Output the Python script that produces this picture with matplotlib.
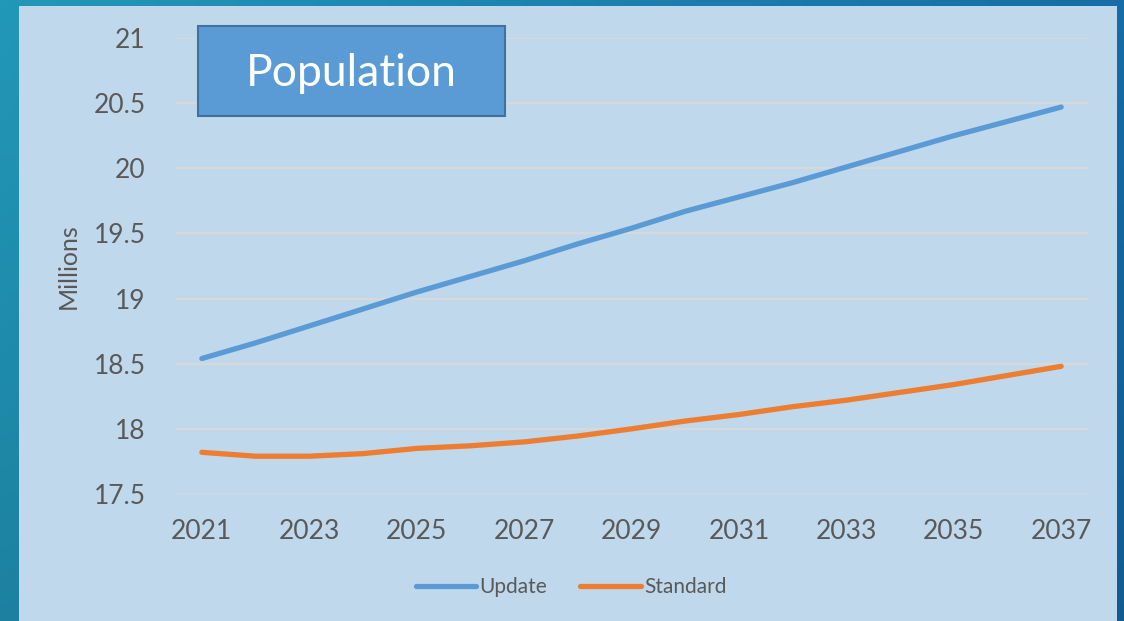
import matplotlib.pyplot as plt
import numpy as np
from matplotlib.patches import Rectangle

plt.rcParams['font.family'] = ['Lato', 'DejaVu Sans']

years = np.arange(2021, 2038)
update = [18.54, 18.66, 18.79, 18.92, 19.05, 19.17, 19.29, 19.42, 19.54,
          19.67, 19.78, 19.89, 20.01, 20.13, 20.25, 20.36, 20.47]
standard = [17.82, 17.79, 17.79, 17.81, 17.85, 17.87, 17.90, 17.945, 18.0,
            18.06, 18.11, 18.17, 18.22, 18.28, 18.34, 18.41, 18.48]
yticks = [17.5, 18, 18.5, 19, 19.5, 20, 20.5, 21]
ytick_labels = ['17.5', '18', '18.5', '19', '19.5', '20', '20.5', '21']

text_col = '#595959'

fig = plt.figure(figsize=(11.24, 6.21), dpi=100)

# slide background gradient (teal left -> blue right)
bg = fig.add_axes([0, 0, 1, 1], zorder=-10)
gx = np.linspace(0, 1, 200)
gy = np.linspace(0, 1, 100)
GX, GY = np.meshgrid(gx, gy)
c_left = np.array([0x22, 0x98, 0xb8]) / 255
c_right = np.array([0x15, 0x68, 0xa5]) / 255
t = np.clip(GX * 0.9 + GY * 0.1, 0, 1)[..., None]
img = c_left * (1 - t) + c_right * t
img = img * (1 - 0.12 * GY[..., None])
bg.imshow(img, extent=[0, 1, 0, 1], aspect='auto', origin='upper')
bg.set_axis_off()

# chart panel
fig.patches.append(Rectangle((0.0169, 0), 0.9769, 0.9903, transform=fig.transFigure,
                             facecolor='#c0d8ec', edgecolor='none', zorder=-5))

ax = fig.add_axes([0.1557, 0.2045, 0.8123, 0.7343])
ax.set_facecolor('none')
ax.plot(years, update, color='#5b9bd5', lw=3.8, solid_capstyle='round', label='Update')
ax.plot(years, standard, color='#ed7d31', lw=3.8, solid_capstyle='round', label='Standard')

ax.set_xlim(2020.5, 2037.5)
ax.set_ylim(17.5, 21)
ax.set_xticks(years[::2])
ax.set_xticklabels([str(y) for y in years[::2]], fontsize=19, color=text_col)
ax.set_yticks(yticks)
ax.set_yticklabels(ytick_labels, fontsize=19, color=text_col)
ax.tick_params(length=0, pad=21)
ax.tick_params(axis='x', pad=18)
ax.grid(axis='y', color='#d9d9d9', lw=1.3)
ax.set_axisbelow(True)
for s in ax.spines.values():
    s.set_visible(False)
ax.set_ylabel('Millions', fontsize=18, color=text_col, labelpad=10)

# title box
fig.patches.append(Rectangle((198 / 1124, 1 - 116 / 621), 307 / 1124, 90 / 621,
                             transform=fig.transFigure, facecolor='#5b9bd5',
                             edgecolor='#41719c', lw=1.5, zorder=5))
fig.text(351 / 1124, 1 - 73 / 621, 'Population', fontsize=32, color='white',
         ha='center', va='center', zorder=6)

fig.legend(loc='center', bbox_to_anchor=(0.508, 0.055), ncol=2, frameon=False,
           fontsize=15, labelcolor=text_col, handlelength=2.9, handletextpad=0.15,
           columnspacing=1.6)

fig.savefig('out.png', dpi=100)
